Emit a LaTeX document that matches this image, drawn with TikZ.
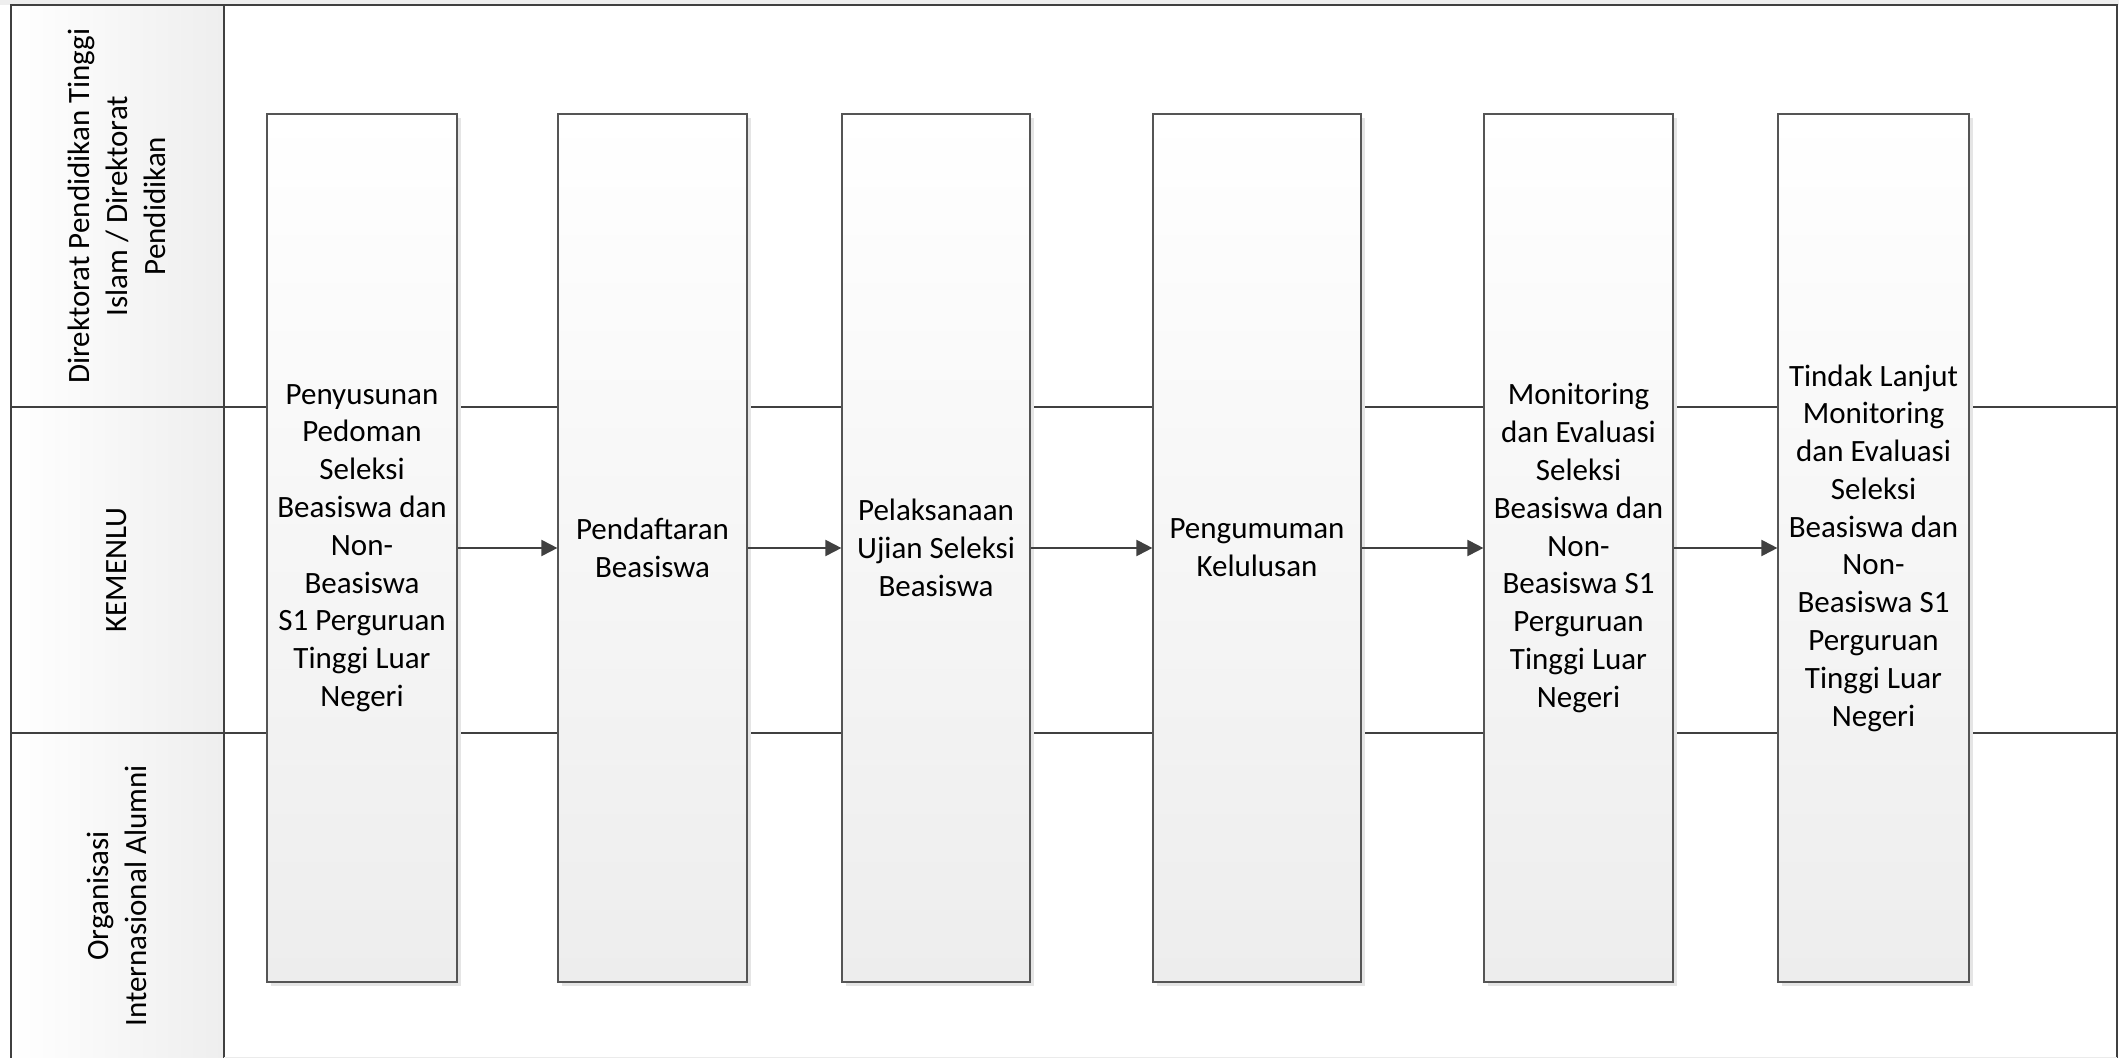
\documentclass[tikz,border=0pt]{standalone}
\usepackage{fontspec}
\setmainfont{Carlito}
\usetikzlibrary{arrows.meta,shadows}
\definecolor{linec}{HTML}{404040}
\definecolor{boxline}{HTML}{555555}
\definecolor{boxbot}{HTML}{EDEDED}
\definecolor{lanebg}{HTML}{EEEEEE}
\begin{document}
\begin{tikzpicture}[x=0.5pt,y=-0.5pt,
  txt/.style={font=\fontsize{15.5}{18.9}\selectfont, align=center, text=black},
  proc/.style={txt, draw=boxline, line width=0.6pt, top color=white, bottom color=boxbot,
    minimum height=434pt, inner sep=0pt,
    drop shadow={shadow xshift=2pt, shadow yshift=-2pt, fill=black!10, opacity=1}},
  flow/.style={draw=linec, line width=1pt, -{Triangle[length=8pt,width=8pt]}},
  lanehead/.style={draw=linec, line width=1pt, left color=white, right color=lanebg},
  lanelbl/.style={txt, rotate=90},
  frame/.style={draw=linec, line width=1pt}]
\useasboundingbox (0,0) rectangle (2119,1058);
\fill[lanebg] (0,0) rectangle (2119,5);
% lane headers
\path[lanehead] (11,5) rectangle (224,407);
\path[lanehead] (11,407) rectangle (224,733);
\path[lanehead] (11,733) rectangle (224,1062);
% frame and lane dividers
\draw[frame] (11,1062) -- (11,5) -- (2117,5) -- (2117,1062);
\draw[frame] (224,407) -- (2117,407);
\draw[frame] (224,733) -- (2117,733);
\draw[draw=black!8, line width=0.5pt] (224,1057) -- (2117,1057);
% lane labels
\node[lanelbl] (l1) at (117,206) {Direktorat Pendidikan Tinggi\\Islam / Direktorat\\Pendidikan};
\node[lanelbl] (l2) at (117,570) {KEMENLU};
\node[lanelbl] (l3) at (117,896) {Organisasi\\Internasional Alumni};
% process boxes
\node[proc, minimum width=95pt] (b1) at (362,548) {Penyusunan\\Pedoman\\Seleksi\\Beasiswa dan\\Non-\\Beasiswa\\S1 Perguruan\\Tinggi Luar\\Negeri};
\node[proc, minimum width=94.5pt] (b2) at (652.5,548) {Pendaftaran\\Beasiswa};
\node[proc, minimum width=94pt] (b3) at (936,548) {Pelaksanaan\\Ujian Seleksi\\Beasiswa};
\node[proc, minimum width=104pt] (b4) at (1257,548) {Pengumuman\\Kelulusan};
\node[proc, minimum width=94.5pt] (b5) at (1578.5,548) {Monitoring\\dan Evaluasi\\Seleksi\\Beasiswa dan\\Non-\\Beasiswa S1\\Perguruan\\Tinggi Luar\\Negeri};
\node[proc, minimum width=95.5pt] (b6) at (1873.5,548) {Tindak Lanjut\\Monitoring\\dan Evaluasi\\Seleksi\\Beasiswa dan\\Non-\\Beasiswa S1\\Perguruan\\Tinggi Luar\\Negeri};
% connectors
\draw[flow] (b1.east) -- (b2.west);
\draw[flow] (b2.east) -- (b3.west);
\draw[flow] (b3.east) -- (b4.west);
\draw[flow] (b4.east) -- (b5.west);
\draw[flow] (b5.east) -- (b6.west);
\end{tikzpicture}
\end{document}
